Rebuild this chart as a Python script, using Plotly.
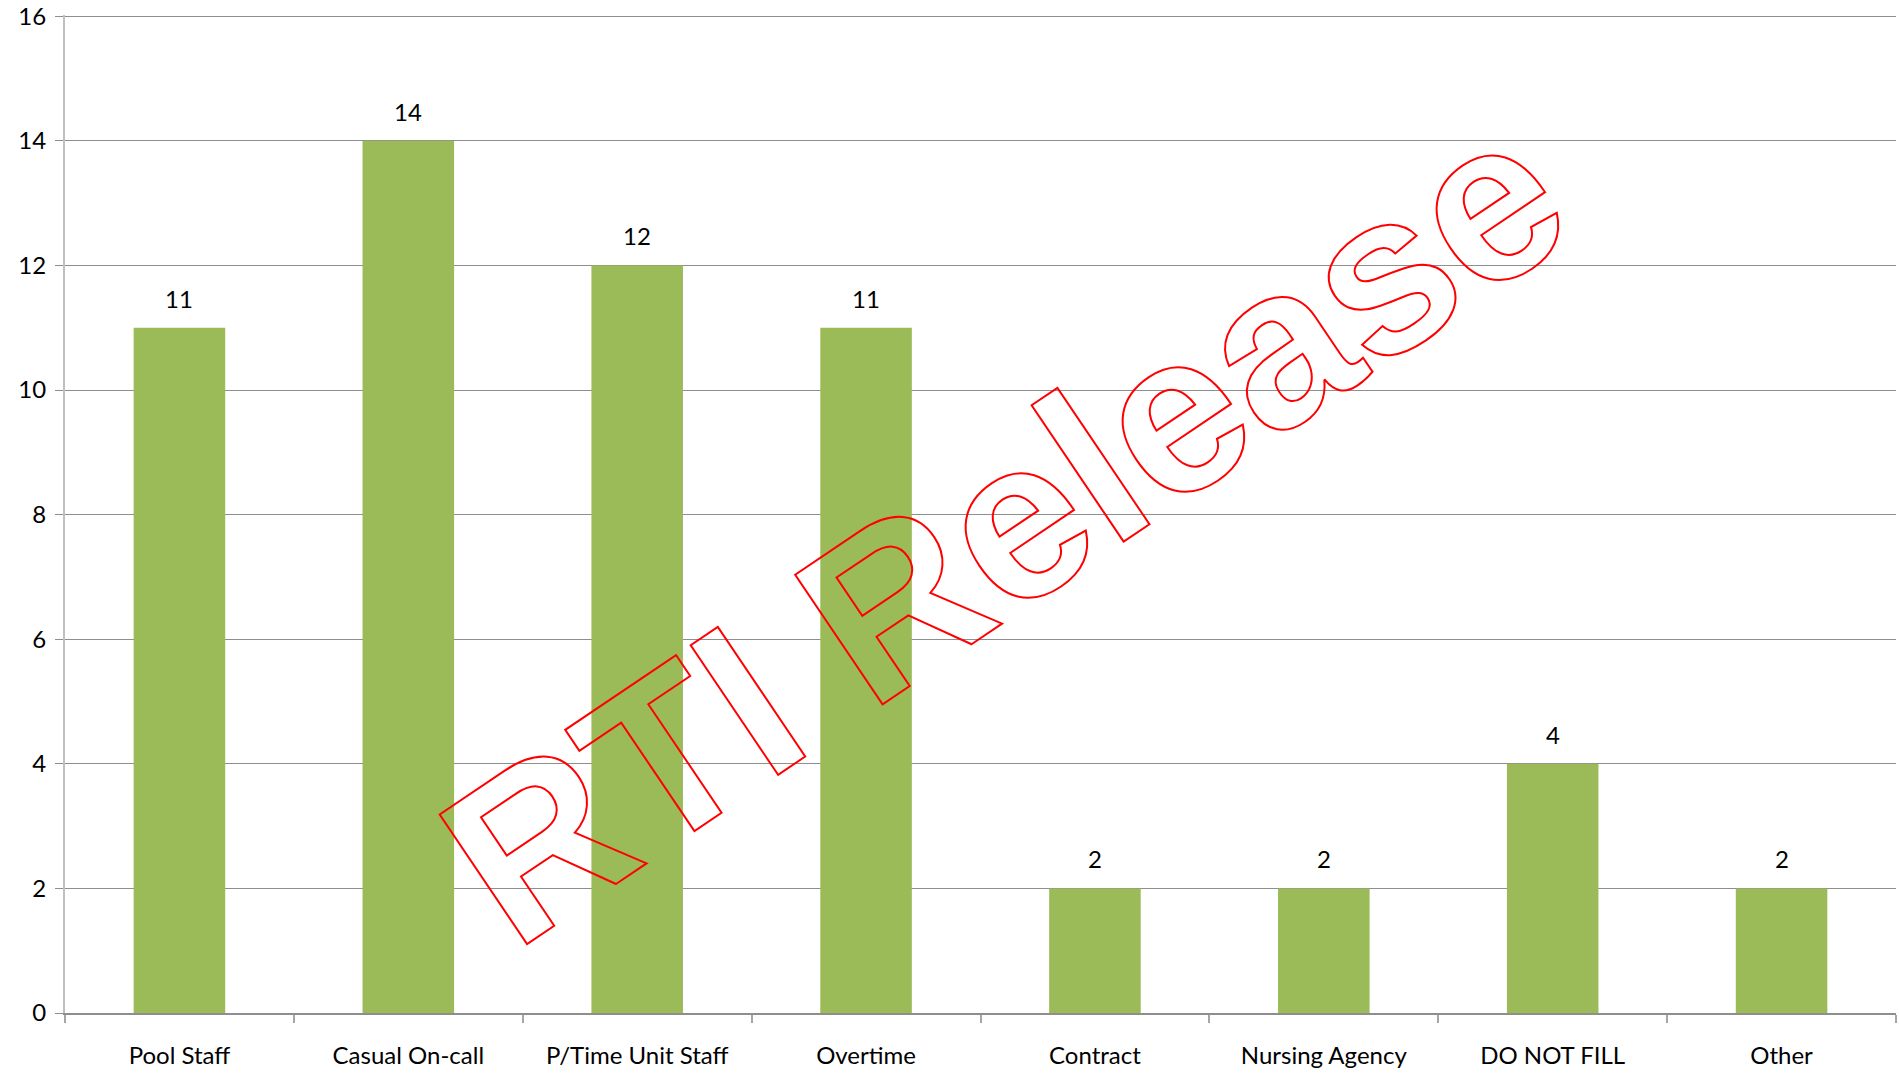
import plotly.graph_objects as go

categories = ["Pool Staff", "Casual On-call", "P/Time Unit Staff", "Overtime",
              "Contract", "Nursing Agency", "DO NOT FILL", "Other"]
values = [11, 14, 12, 11, 2, 2, 4, 2]
y_ticks = [0, 2, 4, 6, 8, 10, 12, 14, 16]
watermark = "RTI Release"

FONT = "Lato, 'Open Sans', sans-serif"

fig = go.Figure()
fig.add_trace(go.Bar(
    x=categories, y=values,
    marker=dict(color="#9BBB59", line=dict(width=0)),
    hoverinfo="skip",
))

annotations = []
for c, v in zip(categories, values):
    annotations.append(dict(
        x=c, y=v, xref="x", yref="y", text=str(v), showarrow=False,
        yanchor="bottom", yshift=13, font=dict(family=FONT, size=24, color="#000000"),
    ))

annotations.append(dict(
    x=0.513, y=0.486, xref="paper", yref="paper", text=watermark,
    showarrow=False, textangle=-34, xanchor="center", yanchor="middle",
    font=dict(family="'Liberation Sans', Arial, sans-serif", size=227, color="#ff0000",
              weight="bold"),
))

fig.update_layout(
    width=1899, height=1080,
    margin=dict(l=65, r=3, t=15, b=67),
    paper_bgcolor="white", plot_bgcolor="white",
    bargap=0.6, showlegend=False,
    annotations=annotations,
    font=dict(family=FONT, size=24, color="#000000"),
)
fig.update_xaxes(
    type="category", tickson="boundaries", ticks="outside", ticklen=8,
    tickcolor="#a6a6a6", tickwidth=1.5, showline=True, linecolor="#8e8e8e", linewidth=1.5,
    showgrid=False, tickfont=dict(family=FONT, size=24, color="#000000"),
    ticklabelstandoff=20, zeroline=False, automargin=False,
)
fig.update_yaxes(
    range=[0, 16.02], tickvals=y_ticks, ticks="outside", ticklen=8,
    tickcolor="#8e8e8e", showline=True, linecolor="#bfbfbf", linewidth=2,
    showgrid=True, gridcolor="#8e8e8e", gridwidth=1, zeroline=False,
    tickfont=dict(family=FONT, size=24, color="#000000"),
    ticklabelstandoff=4, ticklabeloverflow="allow", automargin=False,
)

post = """
var gd = document.getElementById('{plot_id}');
function outline() {
  gd.querySelectorAll('.annotation-text').forEach(function(el) {
    if (el.textContent.indexOf('RTI') === 0) {
      el.style.fill = 'none';
      el.style.stroke = '#ff0000';
      el.style.strokeWidth = '2px';
      el.style.strokeLinejoin = 'miter';
    }
  });
}
outline();
if (gd.on) { gd.on('plotly_afterplot', outline); }
"""

fig.write_html("out.html", post_script=post)
